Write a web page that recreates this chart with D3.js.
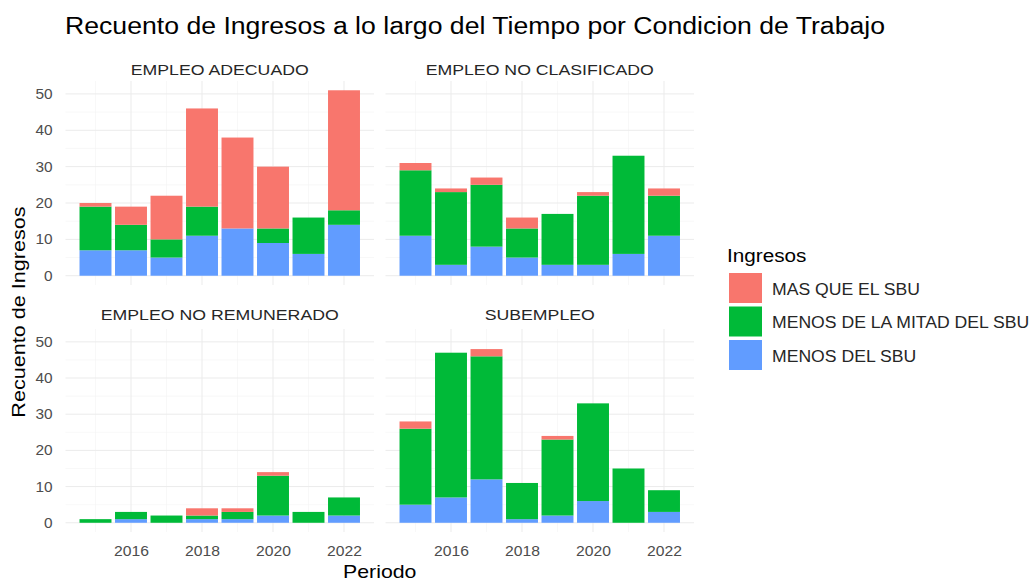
<!DOCTYPE html>
<html>
<head>
<meta charset="utf-8">
<title>Recuento de Ingresos</title>
<script src="https://cdn.jsdelivr.net/npm/d3@7"></script>
<style>
  body { margin: 0; background: #fff; }
  text { font-family: "Liberation Sans", Arial, sans-serif; }
</style>
</head>
<body>
<div id="chart"></div>
<script>
// datos
const periodos = [2015, 2016, 2017, 2018, 2019, 2020, 2021, 2022];
const condiciones = ["EMPLEO ADECUADO", "EMPLEO NO CLASIFICADO", "EMPLEO NO REMUNERADO", "SUBEMPLEO"];
const ingresos = ["MAS QUE EL SBU", "MENOS DE LA MITAD DEL SBU", "MENOS DEL SBU"];
const colores = ["#F8766D", "#00BA38", "#619CFF"];

// una fila por condicion, en el orden de "condiciones"
const masQueSBU = [
    [1, 5, 12, 27, 25, 17, 0, 33],
    [2, 1, 2, 3, 0, 1, 0, 2],
    [0, 0, 0, 2, 1, 1, 0, 0],
    [2, 0, 2, 0, 1, 0, 0, 0]
];
const menosMitadSBU = [
    [12, 7, 5, 8, 0, 4, 10, 4],
    [18, 20, 17, 8, 14, 19, 27, 11],
    [1, 2, 2, 1, 2, 11, 3, 5],
    [21, 40, 34, 10, 21, 27, 15, 6]
];
const menosSBU = [
    [7, 7, 5, 11, 13, 9, 6, 14],
    [11, 3, 8, 5, 3, 3, 6, 11],
    [0, 1, 0, 1, 1, 2, 0, 2],
    [5, 7, 12, 1, 2, 6, 0, 3]
];
const xTicks = [2016, 2018, 2020, 2022];
const yTicks = [0, 10, 20, 30, 40, 50];

var svg = d3.select("#chart").append("svg")
    .attr("width", 1036)
    .attr("height", 581);

// el texto del original es algo mas ancho que Liberation Sans
function ensanchar(sel, f) {
    sel.each(function () {
        var w = this.getComputedTextLength();
        d3.select(this).attr("textLength", w * f).attr("lengthAdjust", "spacingAndGlyphs");
    });
}

// layout de los paneles (facet_wrap 2x2)
var cols = [[65.5, 374], [385.5, 694]];
var rows = [[81, 285], [329, 532]];
var stripY = [75, 320];

// maximo total para la escala comun
var totales = [];
condiciones.forEach(function (c, i) {
    periodos.forEach(function (p, j) {
        totales.push(masQueSBU[i][j] + menosMitadSBU[i][j] + menosSBU[i][j]);
    });
});
var yMax = d3.max(totales);
var xLo = periodos[0] - 0.45, xHi = periodos[periodos.length - 1] + 0.45;
var xPad = (xHi - xLo) * 0.05;

svg.append("text")
    .attr("x", 65).attr("y", 34)
    .attr("font-size", 23)
    .attr("fill", "#000")
    .attr("textLength", 820).attr("lengthAdjust", "spacingAndGlyphs")
    .text("Recuento de Ingresos a lo largo del Tiempo por Condicion de Trabajo");

condiciones.forEach(function (cond, i) {
    var col = cols[i % 2], row = rows[Math.floor(i / 2)];
    var x = d3.scaleLinear().domain([xLo - xPad, xHi + xPad]).range(col);
    var y = d3.scaleLinear().domain([-yMax * 0.05, yMax * 1.05]).range([row[1], row[0]]);
    var g = svg.append("g");

    // grilla menor
    var yMinor = d3.range(5, yMax * 1.05, 10);
    g.selectAll(".yminor").data(yMinor).enter().append("line")
        .attr("x1", col[0]).attr("x2", col[1])
        .attr("y1", function (d) { return y(d); }).attr("y2", function (d) { return y(d); })
        .attr("stroke", "#f3f3f3").attr("stroke-width", 0.6);
    g.selectAll(".xminor").data([2015, 2017, 2019, 2021]).enter().append("line")
        .attr("y1", row[0]).attr("y2", row[1])
        .attr("x1", function (d) { return x(d); }).attr("x2", function (d) { return x(d); })
        .attr("stroke", "#f3f3f3").attr("stroke-width", 0.6);
    // grilla mayor
    g.selectAll(".ymajor").data(yTicks).enter().append("line")
        .attr("x1", col[0]).attr("x2", col[1])
        .attr("y1", function (d) { return y(d); }).attr("y2", function (d) { return y(d); })
        .attr("stroke", "#ebebeb").attr("stroke-width", 1);
    g.selectAll(".xmajor").data(xTicks).enter().append("line")
        .attr("y1", row[0]).attr("y2", row[1])
        .attr("x1", function (d) { return x(d); }).attr("x2", function (d) { return x(d); })
        .attr("stroke", "#ebebeb").attr("stroke-width", 1);

    // barras apiladas: la primera categoria queda arriba
    var filas = periodos.map(function (p, j) {
        return { periodo: p, a: menosSBU[i][j], b: menosMitadSBU[i][j], c: masQueSBU[i][j] };
    });
    var stack = d3.stack().keys(["a", "b", "c"])(filas);
    var colorDe = { a: colores[2], b: colores[1], c: colores[0] };
    stack.forEach(function (serie) {
        g.selectAll(".bar-" + serie.key).data(serie).enter().append("rect")
            .attr("x", function (d) { return x(d.data.periodo - 0.45); })
            .attr("width", function (d) { return x(d.data.periodo + 0.45) - x(d.data.periodo - 0.45); })
            .attr("y", function (d) { return y(d[1]); })
            .attr("height", function (d) { return y(d[0]) - y(d[1]); })
            .attr("fill", colorDe[serie.key]);
    });

    // titulo del panel
    g.append("text")
        .attr("x", (col[0] + col[1]) / 2).attr("y", stripY[Math.floor(i / 2)])
        .attr("text-anchor", "middle")
        .attr("font-size", 15).attr("fill", "#262626")
        .text(cond)
        .call(ensanchar, 1.18);

    // ejes
    if (i % 2 === 0) {
        var ya = g.append("g").attr("transform", "translate(" + col[0] + ",0)")
            .call(d3.axisLeft(y).tickValues(yTicks).tickSize(0).tickPadding(13));
        ya.select(".domain").remove();
        ya.selectAll("text").attr("font-size", 14).attr("fill", "#4d4d4d")
            .style("font-family", "Liberation Sans, Arial, sans-serif")
            .call(ensanchar, 1.1);
    }
    if (i >= 2) {
        var xa = g.append("g").attr("transform", "translate(0," + row[1] + ")")
            .call(d3.axisBottom(x).tickValues(xTicks).tickFormat(d3.format("d")).tickSize(0).tickPadding(14));
        xa.select(".domain").remove();
        xa.selectAll("text").attr("font-size", 14).attr("fill", "#4d4d4d")
            .style("font-family", "Liberation Sans, Arial, sans-serif")
            .call(ensanchar, 1.12);
    }
});

// titulos de ejes
svg.append("text")
    .attr("x", (cols[0][0] + cols[1][1]) / 2).attr("y", 578)
    .attr("text-anchor", "middle").attr("font-size", 18.5).attr("fill", "#000")
    .text("Periodo")
    .call(ensanchar, 1.15);
svg.append("text")
    .attr("transform", "translate(25,312)rotate(-90)")
    .attr("text-anchor", "middle").attr("font-size", 18).attr("fill", "#000")
    .text("Recuento de Ingresos")
    .call(ensanchar, 1.2);

// leyenda
var leg = svg.append("g").attr("transform", "translate(727,0)");
leg.append("text").attr("x", 0).attr("y", 262)
    .attr("font-size", 18).attr("fill", "#000").text("Ingresos")
    .call(ensanchar, 1.15);
ingresos.forEach(function (lab, k) {
    var top = 273 + k * 33.5;
    leg.append("rect").attr("x", 2).attr("y", top)
        .attr("width", 33).attr("height", 30).attr("fill", colores[k]);
    leg.append("text").attr("x", 45).attr("y", top + 16).attr("dy", "0.35em")
        .attr("font-size", 16).attr("fill", "#262626").text(lab)
        .call(ensanchar, 1.1);
});
</script>
</body>
</html>
